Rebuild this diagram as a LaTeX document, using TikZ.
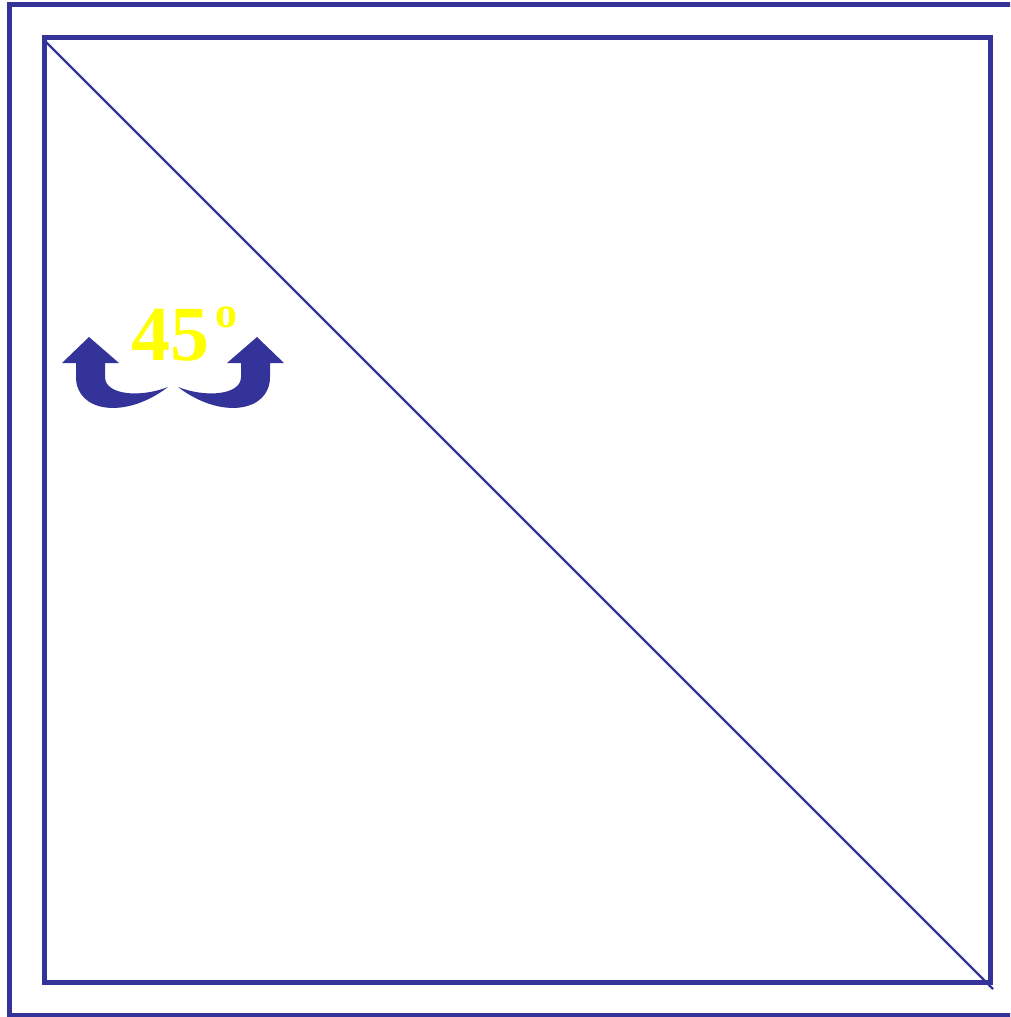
\documentclass[tikz,border=0pt]{standalone}
\usepackage{fontspec}
\setmainfont{Liberation Serif}
\definecolor{frameblue}{RGB}{51,51,153}
\definecolor{angleyellow}{RGB}{255,255,0}
\begin{document}
\begin{tikzpicture}[x=1pt,y=-1pt,
  framebox/.style={draw=frameblue,line width=5pt},
  diag/.style={draw=frameblue,line width=2.2pt},
  curvedarrow/.style={fill=frameblue,draw=none},
  anglelabel/.style={text=angleyellow,font=\bfseries,inner sep=0pt,anchor=base west}]
\useasboundingbox (0,0) rectangle (1010,1017);
\clip (0,0) rectangle (1010,1017);
% outer frame (right side lies beyond the picture)
\draw[framebox] (9.5,4.5) rectangle (1030,1015);
% inner frame
\draw[framebox] (44,37) rectangle (990,982);
% diagonal
\coordinate (dstart) at (44,40);
\coordinate (dend) at (993,989);
\draw[diag] (dstart) -- (dend);
% left curved arrow
\path[curvedarrow] (76,363) -- (76,377) .. controls (76,412) and (125,420) .. (168,387)
  .. controls (140,398) and (105,395) .. (105,377) -- (105,363) -- (119,363) -- (89,337) -- (62,363) -- cycle;
% right curved arrow (mirror about x=173)
\path[curvedarrow] (270,363) -- (270,377) .. controls (270,412) and (221,420) .. (178,387)
  .. controls (206,398) and (241,395) .. (241,377) -- (241,363) -- (227,363) -- (257,337) -- (284,363) -- cycle;
% label
\node[anglelabel] (angle) at (131,360) {\fontsize{78}{78}\selectfont 45\hspace{6pt}\raisebox{33pt}{\fontsize{44}{44}\selectfont o}};
\end{tikzpicture}
\end{document}
